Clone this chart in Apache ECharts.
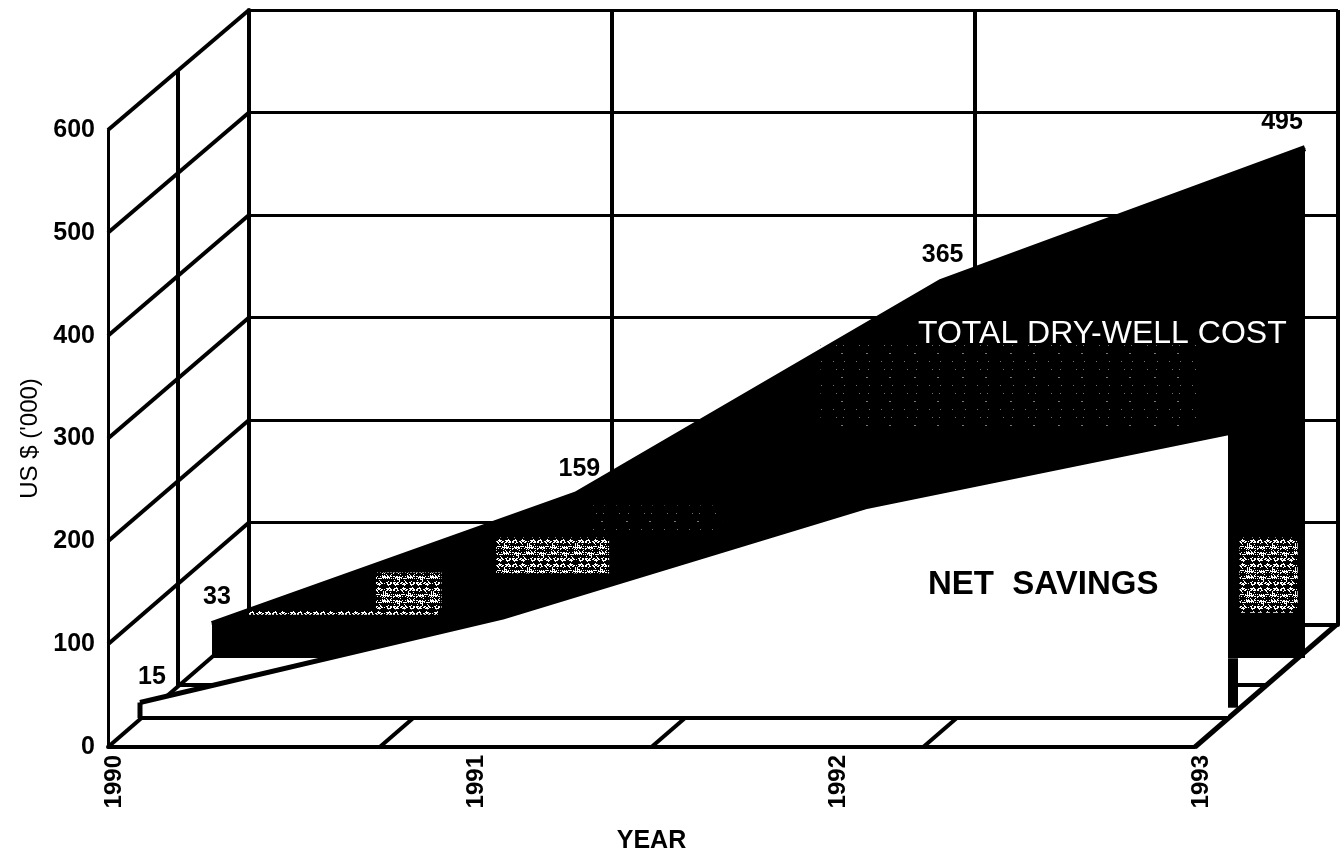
<!DOCTYPE html>
<html>
<head>
<meta charset="utf-8">
<title>Dry-well cost</title>
<script src="https://cdn.jsdelivr.net/npm/echarts@6/dist/echarts.min.js"></script>
<style>
html,body{margin:0;padding:0;background:#fff;}
#main{width:1344px;height:856px;}
</style>
</head>
<body>
<div id="main"></div>
<script>
var years = ['1990','1991','1992','1993'];
var totalCost = [33,159,365,495];
var netSavings = [15,98,205,277];
var yTicks = [0,100,200,300,400,500,600];
// floor marks on the front edge, counted in years from 1990
var floorTicks = [0.75,1.5,2.25];
// scanner speckle, [from year, to year, from value, to value]
var speckleDense = [[0.45,0.63,47,83],[0.78,1.09,82,117],[2.82,2.98,44,117],[0.10,0.62,42,46]];
var speckleSparse = [[1.04,1.40,124,148],[1.67,2.71,221,309]];

var black = '#000';
var font = 'Liberation Sans';
// depth of the box, back wall against front wall
var depthX = 141, depthY = -122;

function makeSpeckle(dense){
	var c = document.createElement('canvas');
	c.width = 48; c.height = 24;
	var ctx = c.getContext('2d');
	ctx.fillStyle = dense ? '#fff' : '#777';
	for(var y=0;y<24;y++){
		for(var x=0;x<48;x++){
			var h = (x*31 + y*57 + x*y*13) % 23;
			if(dense){
				if(y%6<3 ? h<13 : h<3) ctx.fillRect(x,y,1,1);
			}else{
				if(y%8==1 && h<2) ctx.fillRect(x,y,1,1);
			}
		}
	}
	return c;
}
var denseFill = {image:makeSpeckle(true),repeat:'repeat'};
var sparseFill = {image:makeSpeckle(false),repeat:'repeat'};

function hideAxis(i,withGrid){
	return {
		x:{type:'category',gridIndex:i,data:years,boundaryGap:false,
			axisLine:{show:true,onZero:false,lineStyle:{color:black,width:4}},
			axisTick:{show:false},axisLabel:{show:false},
			splitLine:{show:withGrid,lineStyle:{color:black,width:4}}},
		y:{type:'value',gridIndex:i,min:0,max:600,interval:100,
			axisLine:{show:true,lineStyle:{color:black,width:4}},
			axisTick:{show:false},axisLabel:{show:false},
			splitLine:{show:withGrid,lineStyle:{color:black,width:3}}}
	};
}
var back = hideAxis(0,true), mid = hideAxis(1,false), cost = hideAxis(2,false), net = hideAxis(3,false), yearRow = hideAxis(5,false);
cost.x.axisLine.show = false;
cost.y.axisLine.show = false;
net.y.axisLine.show = false;
net.x.z = 6;
// the year labels stand a little right of the front edge ticks
yearRow.x.axisLine.show = false;
yearRow.y.axisLine.show = false;
yearRow.x.axisLabel = {show:true,rotate:90,margin:8,fontFamily:font,fontWeight:'bold',fontSize:24,color:black};

var front = {
	x:{type:'category',gridIndex:4,data:years,boundaryGap:false,name:'YEAR',nameLocation:'middle',nameGap:82,
		nameTextStyle:{fontFamily:font,fontWeight:'bold',fontSize:25,color:black},
		axisLine:{show:true,onZero:false,lineStyle:{color:black,width:4}},axisTick:{show:false},
		axisLabel:{show:false}},
	y:{type:'value',gridIndex:4,min:0,max:600,interval:100,name:"US $ ('000)",nameLocation:'middle',nameGap:62,
		nameTextStyle:{fontFamily:font,fontSize:24,color:black},
		axisLine:{show:true,lineStyle:{color:black,width:3}},axisTick:{show:false},
		axisLabel:{margin:13,fontFamily:font,fontWeight:'bold',fontSize:25,color:black},
		splitLine:{show:false}}
};

function lineShape(x1,y1,x2,y2,w){
	return {type:'line',shape:{x1:x1,y1:y1,x2:x2,y2:y2},style:{stroke:black,lineWidth:w,fill:null}};
}

// side wall diagonals and floor lines, front wall to back wall
function renderDepth(params,api){
	if(params.dataIndex>0) return;
	var kids = [];
	yTicks.forEach(function(v){
		var p = api.coord([0,v]);
		kids.push(lineShape(p[0],p[1],p[0]+depthX,p[1]+depthY+(v/600)*2,4));
	});
	var r = api.coord([3,0]);
	kids.push(lineShape(r[0],r[1],r[0]+depthX,r[1]+depthY,5));
	var l = api.coord([0,0]);
	var wide = r[0]-l[0];
	floorTicks.forEach(function(f){
		var x = l[0]+wide*f/3;
		kids.push(lineShape(x,l[1],x+depthX*0.24,l[1]+depthY*0.24,4));
	});
	return {type:'group',children:kids};
}

// post under the right end of the savings block and its left edge
function renderPosts(params,api){
	if(params.dataIndex>0) return;
	var a = api.coord([3,10]), b = api.coord([3,58]);
	var c = api.coord([0,0]), d = api.coord([0,netSavings[0]]);
	return {type:'group',children:[lineShape(a[0]+5,a[1],a[0]+5,b[1],10),lineShape(c[0],c[1],c[0],d[1],5)]};
}

function renderSpeckle(list,fill){
	return function(params,api){
		var s = list[params.dataIndex];
		var l = api.coord([0,s[2]]), t = api.coord([0,s[3]]), r = api.coord([3,s[2]]);
		var step = (r[0]-l[0])/3;
		return {type:'rect',shape:{x:l[0]+s[0]*step,y:t[1],width:(s[1]-s[0])*step,height:l[1]-t[1]},style:{fill:fill}};
	};
}

var costLabelShift = [[5,-9],[3,-7],[2,-9],[-23,-8]];

var option = {
	animation:false,
	backgroundColor:'#fff',
	textStyle:{fontFamily:font},
	grid:[
		{left:249,top:10,width:1089,height:615,outerBoundsMode:'none'},
		{left:178,top:72,width:1087,height:613,outerBoundsMode:'none'},
		{left:212,top:40,width:1093,height:618,outerBoundsMode:'none'},
		{left:140,top:100,width:1088,height:618,outerBoundsMode:'none'},
		{left:108,top:130,width:1087,height:617,outerBoundsMode:'none'},
		{left:114,top:130,width:1087,height:617,outerBoundsMode:'none'}
	],
	xAxis:[back.x,mid.x,cost.x,net.x,front.x,yearRow.x],
	yAxis:[back.y,mid.y,cost.y,net.y,front.y,yearRow.y],
	series:[
		{type:'custom',name:'depth',xAxisIndex:4,yAxisIndex:4,z:1,clip:false,silent:true,data:[0],renderItem:renderDepth},
		{type:'line',name:'TOTAL DRY-WELL COST',xAxisIndex:2,yAxisIndex:2,z:3,
			symbol:'circle',symbolSize:1,itemStyle:{color:black},
			lineStyle:{color:black,width:6},areaStyle:{color:black,opacity:1},
			label:{show:true,position:'top',fontFamily:font,fontWeight:'bold',fontSize:25,color:black},
			data:totalCost.map(function(v,i){return {value:v,label:{offset:costLabelShift[i]}};})},
		{type:'custom',name:'speckle',xAxisIndex:2,yAxisIndex:2,z:4,silent:true,clip:false,data:speckleDense.map(function(s,i){return i;}),renderItem:renderSpeckle(speckleDense,denseFill)},
		{type:'custom',name:'speckle2',xAxisIndex:2,yAxisIndex:2,z:4,silent:true,clip:false,data:speckleSparse.map(function(s,i){return i;}),renderItem:renderSpeckle(speckleSparse,sparseFill)},
		{type:'line',name:'NET SAVINGS',xAxisIndex:3,yAxisIndex:3,z:5,
			symbol:'circle',symbolSize:1,itemStyle:{color:black},
			lineStyle:{color:black,width:5},areaStyle:{color:'#fff',opacity:1},
			label:{show:true,position:'top',offset:[12,-7],fontFamily:font,fontWeight:'bold',fontSize:25,color:black,
				formatter:function(p){return p.dataIndex==0 ? String(p.value) : '';}},
			data:netSavings},
		{type:'custom',name:'posts',xAxisIndex:3,yAxisIndex:3,z:6,silent:true,clip:false,data:[0],renderItem:renderPosts}
	],
	graphic:[
		{type:'text',left:918,top:318,z:20,style:{text:'TOTAL DRY-WELL COST',fill:'#fff',font:'32px "Liberation Sans"'}},
		{type:'text',left:928,top:568,z:20,style:{text:'NET  SAVINGS',fill:black,font:'bold 33px "Liberation Sans"'}}
	]
};

var myChart = echarts.init(document.getElementById('main'));
myChart.setOption(option);
</script>
</body>
</html>
